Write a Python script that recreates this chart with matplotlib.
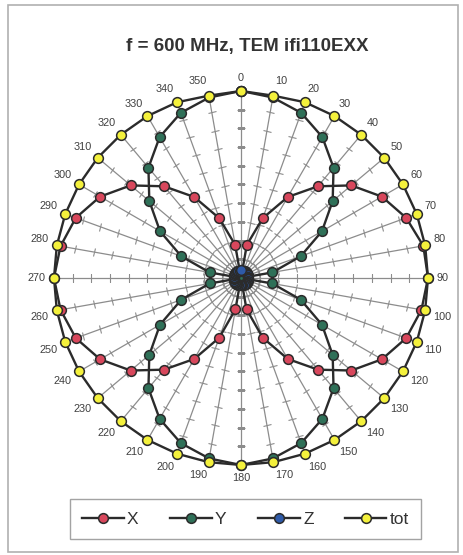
import numpy as np
import matplotlib
matplotlib.use("Agg")
import matplotlib.pyplot as plt
from matplotlib.markers import MarkerStyle
from matplotlib.transforms import Affine2D
from matplotlib.patches import Rectangle

# angles in degrees, 0 at top, clockwise
angles = list(range(0, 360, 10))
angle_labels = [str(a) for a in angles]

x_vals = [0.00, 0.18, 0.34, 0.50, 0.64, 0.77, 0.87, 0.94, 0.99, 1.00,
          0.98, 0.94, 0.87, 0.77, 0.64, 0.50, 0.34, 0.17,
          0.00, 0.17, 0.34, 0.50, 0.64, 0.77, 0.87, 0.94, 0.98, 1.00,
          0.98, 0.94, 0.87, 0.77, 0.64, 0.50, 0.34, 0.18]
y_vals = [1.00, 0.98, 0.94, 0.87, 0.77, 0.64, 0.50, 0.34, 0.17, 0.00,
          0.17, 0.34, 0.50, 0.64, 0.77, 0.87, 0.94, 0.98,
          1.00, 0.98, 0.94, 0.87, 0.77, 0.64, 0.50, 0.34, 0.17, 0.00,
          0.17, 0.34, 0.50, 0.64, 0.77, 0.87, 0.94, 0.98]
z_vals = [0.04, 0.04, 0.04, 0.04, 0.04, 0.04, 0.04, 0.04, 0.04, 0.04,
          0.04, 0.04, 0.04, 0.04, 0.04, 0.04, 0.04, 0.04,
          0.04, 0.04, 0.04, 0.04, 0.04, 0.04, 0.04, 0.04, 0.04, 0.04,
          0.04, 0.04, 0.04, 0.04, 0.04, 0.04, 0.04, 0.04]
tot_vals = [1.00, 0.99, 1.00, 1.00, 1.00, 1.00, 1.00, 1.00, 1.00, 1.00,
            1.00, 1.00, 1.00, 1.00, 1.00, 1.00, 1.00, 1.00,
            1.00, 1.00, 1.00, 1.00, 1.00, 1.00, 1.00, 1.00, 1.00, 1.00,
            1.00, 1.00, 1.00, 1.00, 1.00, 1.00, 1.00, 0.99]

series = [("X", x_vals, "#d8475c"),
          ("Y", y_vals, "#2f7058"),
          ("Z", z_vals, "#2e5aa8"),
          ("tot", tot_vals, "#f4f13c")]

plt.rcParams["font.family"] = ["Liberation Sans", "DejaVu Sans"]

fig = plt.figure(figsize=(4.63, 5.55), dpi=100)
fig.patches.append(Rectangle((8 / 463, 3 / 555), 450 / 463, 547 / 555,
                             transform=fig.transFigure, fill=False,
                             edgecolor="#b0b0b0", linewidth=1.2))

ax = fig.add_axes([0.1166, 0.1622, 0.8078, 0.6739], projection="polar")
ax.set_theta_zero_location("N")
ax.set_theta_direction(-1)
ax.set_ylim(0, 1.0)
ax.spines["polar"].set_visible(False)
ax.set_yticks([])
ax.yaxis.grid(False)
ax.set_thetagrids(angles, angle_labels)
ax.xaxis.grid(True, color="#8c8c8c", linewidth=0.9)
ax.tick_params(axis="x", pad=-1, length=0, labelsize=7.8, labelcolor="#404040")

# put the angle labels outside the ring like a spreadsheet radar chart
for a, tick in zip(angles, ax.xaxis.get_major_ticks()):
    lab = tick.label1
    if a in (0, 180):
        lab.set_ha("center")
    elif a < 180:
        lab.set_ha("left")
    else:
        lab.set_ha("right")
    if a in (90, 270):
        lab.set_va("center")
    elif a < 90 or a > 270:
        lab.set_va("bottom")
    else:
        lab.set_va("top")

# tick marks across each spoke
ticks_r = np.arange(0.1, 1.0, 0.1)
for a in angles:
    m = MarkerStyle("_", transform=Affine2D().rotate_deg(-a))
    ax.plot(np.full(len(ticks_r), np.deg2rad(a)), ticks_r, ls="none",
            marker=m, markersize=5.5, markeredgewidth=0.8,
            color="#8c8c8c", zorder=1)

theta = np.deg2rad(angles + [angles[0]])
handles = []
for name, vals, col in series:
    line, = ax.plot(theta, vals + [vals[0]], color="#2b2b2b", linewidth=1.7,
                    marker="o", markersize=7, markerfacecolor=col,
                    markeredgecolor="#2b2b2b", markeredgewidth=1.1,
                    clip_on=False, zorder=3, label=name)
    handles.append(line)

fig.text(0.533, 1 - 47 / 555, "f = 600 MHz, TEM ifi110EXX",
         ha="center", va="center", fontsize=13.5, fontweight="bold",
         color="#333333")

leg = fig.legend(handles=handles, loc="center", ncol=4,
                 bbox_to_anchor=(245.5 / 463, 1 - 519 / 555),
                 fontsize=12.5, frameon=True, fancybox=False,
                 handlelength=2.4, handletextpad=0.2, columnspacing=1.8,
                 borderpad=0.7)
leg.get_frame().set_edgecolor("#8c8c8c")
leg.get_frame().set_linewidth(1.0)
for t in leg.get_texts():
    t.set_color("#333333")

fig.savefig("out.png", dpi=100)
